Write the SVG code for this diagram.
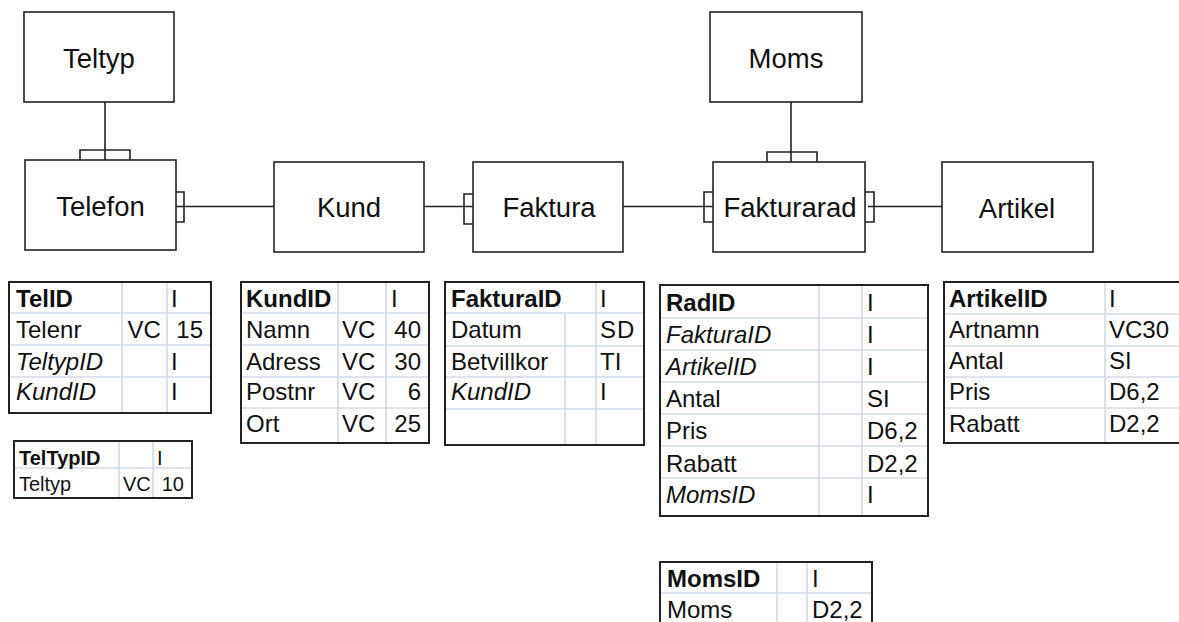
<svg xmlns="http://www.w3.org/2000/svg" width="1179" height="622" viewBox="0 0 1179 622">
<style>
.box{fill:#fff;stroke:#222;stroke-width:1.6}
.lbl{font-family:"Liberation Sans",Arial,sans-serif;font-size:27.5px;fill:#111;text-anchor:middle}
.con{fill:none;stroke:#222;stroke-width:1.6}
.tb{fill:#fff;stroke:#222;stroke-width:2}
.gr{stroke:#d3dae8;stroke-width:1.6}
.t{font-family:"Liberation Sans",Arial,sans-serif;font-size:24px;fill:#111}
.s{font-size:20px}
.b{font-weight:bold}
.i{font-style:italic}
.r{text-anchor:end}
</style>
<g id="connectors">
<path class="con" d="M105,102 V160 M80,160 V150 H130 V160"/>
<path class="con" d="M173,206.5 H274 M176,192 H184 V222 H176"/>
<path class="con" d="M424,206.5 H473 M473,194 H464 V224 H473"/>
<path class="con" d="M623,206.5 H713 M713,192 H704 V222 H713"/>
<path class="con" d="M868,206.5 H942 M865,192 H874 V222 H865"/>
<path class="con" d="M791,102 V162 M767,162 V152 H817 V162"/>
</g>
<g id="node-teltyp"><rect class="box" x="24" y="12" width="150" height="90"/><text class="lbl" x="99" y="68">Teltyp</text></g>
<g id="node-telefon"><rect class="box" x="25" y="160" width="151" height="90"/><text class="lbl" x="100.5" y="216">Telefon</text></g>
<g id="node-kund"><rect class="box" x="274" y="162" width="150" height="90"/><text class="lbl" x="349" y="217">Kund</text></g>
<g id="node-faktura"><rect class="box" x="473" y="162" width="150" height="90"/><text class="lbl" x="549" y="217">Faktura</text></g>
<g id="node-fakturarad"><rect class="box" x="713" y="162" width="152" height="90"/><text class="lbl" x="790" y="217">Fakturarad</text></g>
<g id="node-moms"><rect class="box" x="710" y="12" width="152" height="90"/><text class="lbl" x="786" y="68">Moms</text></g>
<g id="node-artikel"><rect class="box" x="942" y="162" width="151" height="90"/><text class="lbl" x="1017" y="218">Artikel</text></g>

<g id="table-telefon">
<rect class="tb" x="9" y="282" width="202" height="131"/>
<path class="gr" d="M122,283 V412 M167,283 V412 M10,313 H210 M10,345 H210 M10,377 H210"/>
<text class="t b" x="16" y="307">TelID</text><text class="t" x="171" y="307">I</text>
<text class="t" x="16" y="338">Telenr</text><text class="t" x="127.5" y="338">VC</text><text class="t r" x="203" y="338">15</text>
<text class="t i" x="16" y="369.5">TeltypID</text><text class="t" x="171" y="369.5">I</text>
<text class="t i" x="16" y="400">KundID</text><text class="t" x="171" y="400">I</text>
</g>
<g id="table-teltyp">
<rect class="tb" x="14" y="441" width="178" height="57"/>
<path class="gr" d="M119,442 V497 M153,442 V497 M15,468 H191"/>
<text class="t s b" x="19" y="465">TelTypID</text><text class="t s" x="157" y="465">I</text>
<text class="t s" x="19" y="491">Teltyp</text><text class="t s" x="123" y="491">VC</text><text class="t s r" x="184" y="491">10</text>
</g>
<g id="table-kund">
<rect class="tb" x="241" y="282" width="188" height="161"/>
<path class="gr" d="M338,283 V442 M386,283 V442 M242,313 H428 M242,345 H428 M242,377 H428 M242,408 H428"/>
<text class="t b" x="246" y="307">KundID</text><text class="t" x="391" y="307">I</text>
<text class="t" x="246" y="338">Namn</text><text class="t" x="342" y="338">VC</text><text class="t r" x="421" y="338">40</text>
<text class="t" x="246" y="369.5">Adress</text><text class="t" x="342" y="369.5">VC</text><text class="t r" x="421" y="369.5">30</text>
<text class="t" x="246" y="400">Postnr</text><text class="t" x="342" y="400">VC</text><text class="t r" x="421" y="400">6</text>
<text class="t" x="246" y="431.5">Ort</text><text class="t" x="342" y="431.5">VC</text><text class="t r" x="421" y="431.5">25</text>
</g>
<g id="table-faktura">
<rect class="tb" x="445" y="282" width="199" height="163"/>
<path class="gr" d="M565,313 V444 M596,283 V444 M446,313 H643 M446,346 H643 M446,377 H643 M446,409 H643"/>
<text class="t b" x="451" y="307">FakturaID</text><text class="t" x="600" y="307">I</text>
<text class="t" x="451" y="338">Datum</text><text class="t" x="600" y="338" letter-spacing="1">SD</text>
<text class="t" x="451" y="369.5">Betvillkor</text><text class="t" x="600" y="369.5">TI</text>
<text class="t i" x="451" y="400">KundID</text><text class="t" x="600" y="400">I</text>
</g>
<g id="table-fakturarad">
<rect class="tb" x="660" y="285" width="268" height="231"/>
<path class="gr" d="M819,286 V515 M862,286 V515 M661,318 H927 M661,350 H927 M661,382 H927 M661,414 H927 M661,446 H927 M661,478 H927"/>
<text class="t b" x="666" y="311">RadID</text><text class="t" x="867" y="311">I</text>
<text class="t i" x="666" y="343">FakturaID</text><text class="t" x="867" y="343">I</text>
<text class="t i" x="666" y="375">ArtikelID</text><text class="t" x="867" y="375">I</text>
<text class="t" x="666" y="407">Antal</text><text class="t" x="867" y="407">SI</text>
<text class="t" x="666" y="439">Pris</text><text class="t" x="867" y="439">D6,2</text>
<text class="t" x="666" y="471.5">Rabatt</text><text class="t" x="867" y="471.5">D2,2</text>
<text class="t i" x="666" y="503">MomsID</text><text class="t" x="867" y="503">I</text>
</g>
<g id="table-artikel">
<rect class="tb" x="944" y="282" width="250" height="161"/>
<path class="gr" d="M1105,283 V442 M945,314 H1179 M945,346 H1179 M945,377 H1179 M945,408 H1179"/>
<text class="t b" x="949" y="307">ArtikelID</text><text class="t" x="1109" y="307">I</text>
<text class="t" x="949" y="338">Artnamn</text><text class="t" x="1109" y="338">VC30</text>
<text class="t" x="949" y="369">Antal</text><text class="t" x="1109" y="369">SI</text>
<text class="t" x="949" y="400">Pris</text><text class="t" x="1109" y="400">D6,2</text>
<text class="t" x="949" y="431.5">Rabatt</text><text class="t" x="1109" y="431.5">D2,2</text>
</g>
<g id="table-moms">
<rect class="tb" x="660" y="562" width="212" height="70"/>
<path class="gr" d="M777,563 V622 M807,563 V622 M661,593 H871"/>
<text class="t b" x="667" y="587">MomsID</text><text class="t" x="812" y="587">I</text>
<text class="t" x="667" y="618">Moms</text><text class="t" x="812" y="618">D2,2</text>
</g>
</svg>
